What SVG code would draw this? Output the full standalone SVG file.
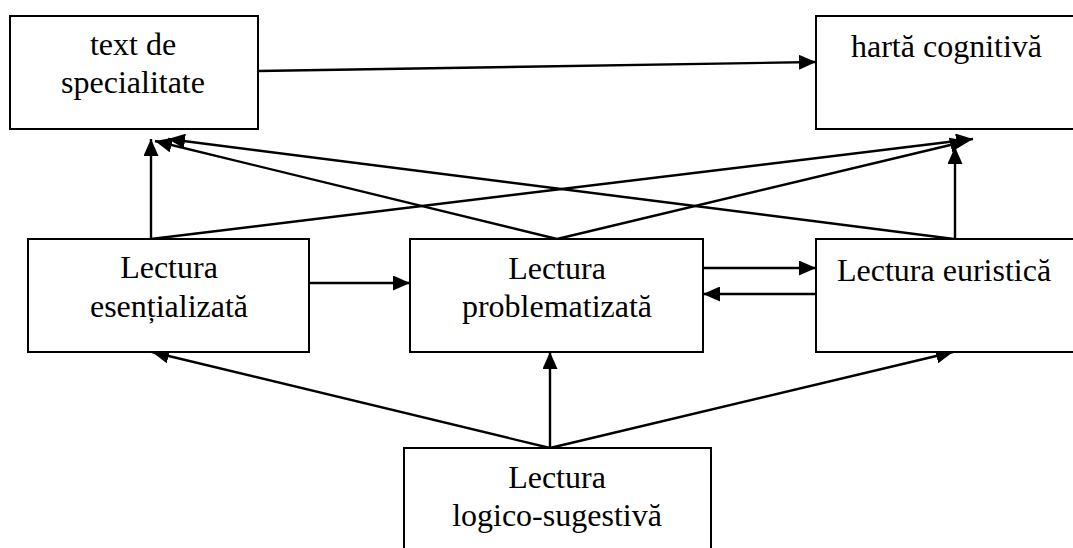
<svg xmlns="http://www.w3.org/2000/svg" width="1073" height="548" viewBox="0 0 1073 548">
  <defs>
    <marker id="arrow" markerUnits="userSpaceOnUse" markerWidth="17" markerHeight="15" refX="17" refY="7.5" orient="auto">
      <path d="M0,0 L17,7.5 L0,15 z" fill="#000"/>
    </marker>
    <style>
      .box { fill: #fff; stroke: #000; stroke-width: 2; }
      .lbl { font-family: "Liberation Serif", "Times New Roman", serif; font-size: 32px; fill: #000; }
      .mid { text-anchor: middle; }
      .conn line { stroke: #000; stroke-width: 2.4; marker-end: url(#arrow); }
    </style>
  </defs>
  <rect width="1073" height="548" fill="#fff"/>

  <!-- connectors -->
  <g id="connectors" class="conn">
    <line x1="258" y1="71" x2="816" y2="62"/>
    <line x1="151" y1="239" x2="151" y2="139"/>
    <line x1="557" y1="239" x2="155" y2="141"/>
    <line x1="954" y1="239" x2="168" y2="139"/>
    <line x1="151" y1="239" x2="973" y2="139"/>
    <line x1="557" y1="239" x2="967" y2="141"/>
    <line x1="955" y1="239" x2="955" y2="147"/>
    <line x1="309" y1="283" x2="410" y2="283"/>
    <line x1="703" y1="268" x2="816" y2="268"/>
    <line x1="816" y1="294" x2="703" y2="294"/>
    <line x1="550" y1="448" x2="152" y2="352"/>
    <line x1="550" y1="448" x2="550" y2="352"/>
    <line x1="550" y1="448" x2="953" y2="352"/>
  </g>

  <g id="text-de-specialitate">
    <rect class="box" x="10" y="16" width="248" height="113"/>
    <text class="lbl mid" x="133" y="55">text de</text>
    <text class="lbl mid" x="133" y="93">specialitate</text>
  </g>

  <g id="harta-cognitiva">
    <rect class="box" x="816" y="16" width="270" height="113"/>
    <text class="lbl" x="851" y="57">hartă cognitivă</text>
  </g>

  <g id="lectura-esentializata">
    <rect class="box" x="28" y="239" width="281" height="113"/>
    <text class="lbl mid" x="169" y="278">Lectura</text>
    <text class="lbl mid" x="169" y="317">esențializată</text>
  </g>

  <g id="lectura-problematizata">
    <rect class="box" x="410" y="239" width="293" height="113"/>
    <text class="lbl mid" x="557" y="279">Lectura</text>
    <text class="lbl mid" x="557" y="317">problematizată</text>
  </g>

  <g id="lectura-euristica">
    <rect class="box" x="816" y="239" width="270" height="113"/>
    <text class="lbl" x="837" y="281">Lectura euristică</text>
  </g>

  <g id="lectura-logico-sugestiva">
    <rect class="box" x="404" y="448" width="307" height="120"/>
    <text class="lbl mid" x="557" y="488">Lectura</text>
    <text class="lbl mid" x="557" y="526">logico-sugestivă</text>
  </g>
</svg>
